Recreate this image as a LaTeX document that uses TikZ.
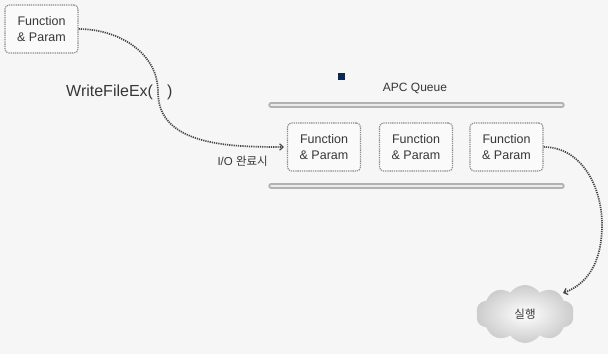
\documentclass[tikz,border=0pt]{standalone}
\usepackage{fontspec}
\setmainfont{Liberation Sans}
\newfontfamily\krfont{Noto Sans CJK KR}
\usetikzlibrary{arrows.meta,shapes.symbols}
\definecolor{bgc}{RGB}{246,246,246}
\definecolor{txt}{RGB}{55,55,55}
\definecolor{navyc}{RGB}{10,40,80}
\tikzset{
  fpbox/.style={draw=gray!90, dashed, dash pattern=on 1.3pt off 0.9pt, line width=1.1pt,
    rounded corners=4pt, fill=white!98!black, minimum width=73pt, minimum height=48pt,
    align=center, font=\fontsize{12.5}{15.5}\selectfont, text=txt, inner sep=0pt},
  dotline/.style={draw=gray!55!black, line width=1.7pt, dash pattern=on 1.2pt off 1pt,
    -{Straight Barb[length=3.5pt,width=6.5pt,line width=1.2pt]}},
  qline/.style={draw=gray!60, double=gray!15, double distance=1.8pt, line width=1.8pt, line cap=round},
  lbl/.style={text=txt, inner sep=0pt}
}
\begin{document}
\begin{tikzpicture}[x=1pt,y=1pt]
\fill[bgc] (0,0) rectangle (608,-354);
\useasboundingbox (0,0) rectangle (608,-354);
% source box
\node[fpbox] (f0) at (41.5,-29) {Function\\\& Param};
% queue
\node[lbl, font=\fontsize{12}{14}\selectfont] (apc) at (415,-88) {APC Queue};
\node[fill=navyc, minimum size=7pt, inner sep=0pt] (sq) at (341,-76) {};
\coordinate (qt1) at (271,-105);
\coordinate (qt2) at (562,-105);
\coordinate (qb1) at (271,-186);
\coordinate (qb2) at (562,-186);
\draw[qline] (qt1) -- (qt2);
\draw[qline] (qb1) -- (qb2);
\node[fpbox] (q1) at (324,-147) {Function\\\& Param};
\node[fpbox] (q2) at (416,-147) {Function\\\& Param};
\node[fpbox] (q3) at (506.5,-147) {Function\\\& Param};
% labels
\node[lbl, font=\fontsize{16}{18}\selectfont, anchor=west] (wf) at (66,-92) {WriteFileEx(\hspace{14pt})};
\node[lbl, font=\fontsize{11.5}{13}\selectfont, anchor=east] (io) at (268,-161) {I/O {\krfont 완료시}};
% cloud
\node[cloud, cloud puffs=10, cloud puff arc=110, aspect=1.8, minimum width=98pt, minimum height=58pt,
  shading=radial, inner color=white, outer color=gray!40, inner sep=0pt] (cl) at (525,-314) {};
\node[lbl, font=\krfont\fontsize{11.5}{13}\selectfont] (ex) at (cl.center) {실행};
% connectors
\coordinate (m1) at (158,-92);
\draw[dotline] (f0.east) to[out=0,in=90] (m1) to[out=-90,in=180] ([xshift=-3pt]q1.west);
\coordinate (m2) at (602,-225);
\coordinate (ce) at (563,-293);
\draw[dotline] (q3.east) to[out=0,in=90] (m2) to[out=-90,in=20] (ce);
\end{tikzpicture}
\end{document}
